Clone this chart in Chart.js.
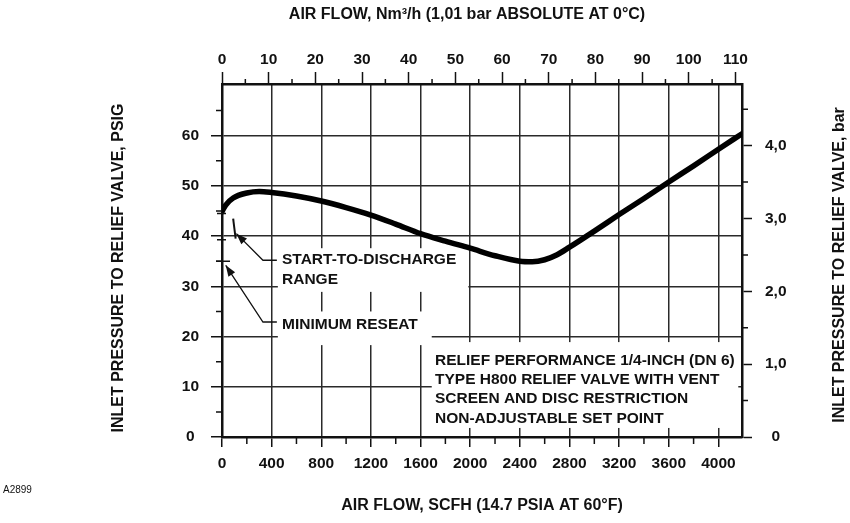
<!DOCTYPE html>
<html>
<head>
<meta charset="utf-8">
<script src="https://cdn.jsdelivr.net/npm/chart.js@4.4.1/dist/chart.umd.min.js"></script>
<style>
  body { margin: 0; background: #fff; }
  #wrap { width: 850px; height: 523px; }
</style>
</head>
<body>
<div id="wrap"><canvas id="chart" width="850" height="523"></canvas></div>
<script>
// relief curve (SCFH -> psig)
const airFlowScfh = [0, 30, 90, 200, 300, 400, 600, 800, 1000, 1200, 1400, 1600, 1800, 2000,
	2200, 2400, 2500, 2600, 2700, 2800, 3000, 3200, 3400, 3600, 3800, 4000, 4190];
const inletPsig = [44.9, 46.2, 47.6, 48.6, 48.9, 48.7, 48.0, 47.0, 45.7, 44.2, 42.4, 40.5, 39.0, 37.6,
	36.1, 35.0, 34.9, 35.3, 36.3, 37.8, 41.0, 44.3, 47.5, 50.8, 54.0, 57.3, 60.4];

// start-to-discharge range and minimum reseat (psig)
const startToDischargePsig = [43.5, 39.5];
const minimumReseatPsig = 35;

// axis ticks
const scfhTicks = [0, 400, 800, 1200, 1600, 2000, 2400, 2800, 3200, 3600, 4000];
const scfhMinor = [200, 600, 1000, 1400, 1800, 2200, 2600, 3000, 3400, 3800];
const nm3Ticks = [0, 10, 20, 30, 40, 50, 60, 70, 80, 90, 100, 110];
const nm3Minor = [5, 15, 25, 35, 45, 55, 65, 75, 85, 95, 105];
const psigTicks = [0, 10, 20, 30, 40, 50, 60];
const psigMinor = [5, 15, 25, 35, 45, 55, 65];
const barTicks = [0, 1, 2, 3, 4];
const barLabels = ['0', '1,0', '2,0', '3,0', '4,0'];
const barMinor = [0.5, 1.5, 2.5, 3.5, 4.5];

const noteLines = [
	'RELIEF PERFORMANCE 1/4-INCH (DN 6)',
	'TYPE H800 RELIEF VALVE WITH VENT',
	'SCREEN AND DISC RESTRICTION',
	'NON-ADJUSTABLE SET POINT',
];

const FONT = '"Liberation Sans", Arial, Helvetica, sans-serif';
const INK = '#111';
const GRID = '#2a2a2a';

function setTicks(values) {
	return scale => {
		scale.ticks = values.map(v => ({ value: v }));
	};
}

function arrow(ctx, pts) {
	// polyline with filled head at the first point
	ctx.beginPath();
	ctx.moveTo(pts[0][0], pts[0][1]);
	pts.slice(1).forEach(p => ctx.lineTo(p[0], p[1]));
	ctx.stroke();
	const [tx, ty] = pts[0];
	const a = Math.atan2(pts[1][1] - ty, pts[1][0] - tx);
	const len = 11, half = 4;
	ctx.beginPath();
	ctx.moveTo(tx, ty);
	ctx.lineTo(tx + len * Math.cos(a) - half * Math.sin(a), ty + len * Math.sin(a) + half * Math.cos(a));
	ctx.lineTo(tx + len * Math.cos(a) + half * Math.sin(a), ty + len * Math.sin(a) - half * Math.cos(a));
	ctx.closePath();
	ctx.fill();
}

const decorations = {
	id: 'decorations',
	beforeDatasetsDraw(chart) {
		const { ctx, scales: { x, y } } = chart;
		const box = (x0, x1, y0, y1) => {
			const l = x.getPixelForValue(x0), r = x.getPixelForValue(x1);
			const t = y.getPixelForValue(y1), b = y.getPixelForValue(y0);
			ctx.fillRect(l, t, r - l, b - t);
		};
		ctx.save();
		ctx.fillStyle = '#fff';
		box(450, 1985, 28.9, 37.6);   // start-to-discharge label
		box(450, 1690, 18.3, 25.0);   // minimum reseat label
		box(1690, 4160, 1.8, 18.9);   // note block
		ctx.restore();
	},
	afterDraw(chart) {
		const { ctx, chartArea: ca, scales: { x, y, x2, y2 } } = chart;
		ctx.save();
		ctx.strokeStyle = INK;
		ctx.fillStyle = INK;

		// minor ticks
		ctx.lineWidth = 1.5;
		ctx.beginPath();
		psigMinor.forEach(v => { const p = y.getPixelForValue(v); ctx.moveTo(ca.left - 6, p); ctx.lineTo(ca.left, p); });
		scfhMinor.forEach(v => { const p = x.getPixelForValue(v); ctx.moveTo(p, ca.bottom); ctx.lineTo(p, ca.bottom + 7); });
		nm3Minor.forEach(v => { const p = x2.getPixelForValue(v); ctx.moveTo(p, ca.top - 5); ctx.lineTo(p, ca.top); });
		barMinor.forEach(v => { const p = y2.getPixelForValue(v); ctx.moveTo(ca.right, p); ctx.lineTo(ca.right + 6, p); });
		ctx.stroke();

		// start-to-discharge range marker and marks on the axis
		ctx.lineWidth = 2;
		ctx.beginPath();
		ctx.moveTo(x.getPixelForValue(90), y.getPixelForValue(startToDischargePsig[0]));
		ctx.lineTo(x.getPixelForValue(110), y.getPixelForValue(startToDischargePsig[1]));
		ctx.stroke();
		ctx.lineWidth = 1.5;
		ctx.beginPath();
		[44.5, 39.3].forEach(v => { const p = y.getPixelForValue(v); ctx.moveTo(ca.left - 5, p); ctx.lineTo(ca.left + 4, p); });
		const rp = y.getPixelForValue(minimumReseatPsig);
		ctx.moveTo(ca.left - 6, rp); ctx.lineTo(ca.left + 8, rp);
		ctx.stroke();

		// leader arrows
		const P = (sx, py) => [x.getPixelForValue(sx), y.getPixelForValue(py)];
		ctx.lineWidth = 1.3;
		arrow(ctx, [P(116, 40.5), P(330, 35.2), P(442, 35.2)]);
		arrow(ctx, [P(30, 34.2), P(330, 22.9), P(442, 22.9)]);

		// annotation text
		ctx.font = 'bold 15.5px ' + FONT;
		ctx.textAlign = 'left';
		ctx.textBaseline = 'middle';
		ctx.fillText('START-TO-DISCHARGE', 282, 260);
		ctx.fillText('RANGE', 282, 279.5);
		ctx.fillText('MINIMUM RESEAT', 282, 325);
		noteLines.forEach((t, i) => ctx.fillText(t, 435, 360.5 + i * 19.3));

		// axis titles
		ctx.font = 'bold 16px ' + FONT;
		ctx.textAlign = 'center';
		ctx.fillText('AIR FLOW, Nm\u00b3/h (1,01 bar ABSOLUTE AT 0\u00b0C)', 467, 15);
		ctx.fillText('AIR FLOW, SCFH (14.7 PSIA AT 60\u00b0F)', 482, 506);
		ctx.save();
		ctx.translate(118.5, 268);
		ctx.rotate(-Math.PI / 2);
		ctx.fillText('INLET PRESSURE TO RELIEF VALVE, PSIG', 0, 0);
		ctx.restore();
		ctx.save();
		ctx.translate(840, 265);
		ctx.rotate(-Math.PI / 2);
		ctx.fillText('INLET PRESSURE TO RELIEF VALVE, bar', 0, 0);
		ctx.restore();

		ctx.font = '10px ' + FONT;
		ctx.textAlign = 'left';
		ctx.fillText('A2899', 3, 490);
		ctx.restore();
	},
};

const tickFont = { family: FONT, size: 15.5, weight: 'bold' };

const ctx = document.getElementById('chart').getContext('2d');
new Chart(ctx, {
	type: 'line',
	data: {
		datasets: [
			{
				data: airFlowScfh.map((v, i) => ({ x: v, y: inletPsig[i] })),
				borderColor: '#000',
				borderWidth: 5.5,
				pointRadius: 0,
				cubicInterpolationMode: 'monotone',
				borderCapStyle: 'round',
				xAxisID: 'x',
				yAxisID: 'y',
			},
		],
	},
	options: {
		responsive: false,
		animation: false,
		layout: { padding: 0 },
		plugins: {
			legend: { display: false },
			tooltip: { enabled: false },
		},
		scales: {
			x: {
				type: 'linear',
				position: 'bottom',
				min: 0,
				max: 4190,
				afterBuildTicks: setTicks(scfhTicks),
				afterFit: s => { s.height = 86; },
				ticks: { font: tickFont, color: INK, padding: 7, maxRotation: 0, autoSkip: false, callback: v => String(v) },
				grid: { color: GRID, lineWidth: 1.5, tickLength: 10, tickColor: INK, tickWidth: 1.5 },
				border: { color: INK, width: 2.5 },
			},
			x2: {
				type: 'linear',
				position: 'top',
				min: 0,
				max: 111.4,
				afterBuildTicks: setTicks(nm3Ticks),
				afterFit: s => { s.height = 84; },
				ticks: { font: tickFont, color: INK, padding: 3, maxRotation: 0, autoSkip: false, callback: v => String(v) },
				grid: { drawOnChartArea: false, tickLength: 12, tickColor: INK, tickWidth: 1.5 },
				border: { color: INK, width: 2.5 },
			},
			y: {
				type: 'linear',
				position: 'left',
				min: 0,
				max: 70.3,
				afterBuildTicks: setTicks(psigTicks),
				afterFit: s => { s.width = 222; },
				ticks: { font: tickFont, color: INK, padding: 12, crossAlign: 'center', autoSkip: false, callback: v => String(v) },
				grid: { color: GRID, lineWidth: 1.5, tickLength: 11, tickColor: INK, tickWidth: 1.5 },
				border: { color: INK, width: 2.5 },
			},
			y2: {
				type: 'linear',
				position: 'right',
				min: 0,
				max: 70.3 / 14.5038,
				afterBuildTicks: setTicks(barTicks),
				afterFit: s => { s.width = 108; },
				ticks: {
					font: tickFont, color: INK, padding: 13, crossAlign: 'center', autoSkip: false,
					callback: v => barLabels[barTicks.indexOf(v)],
				},
				grid: { drawOnChartArea: false, tickLength: 10, tickColor: INK, tickWidth: 1.5 },
				border: { color: INK, width: 2.5 },
			},
		},
	},
	plugins: [decorations],
});
</script>
</body>
</html>
